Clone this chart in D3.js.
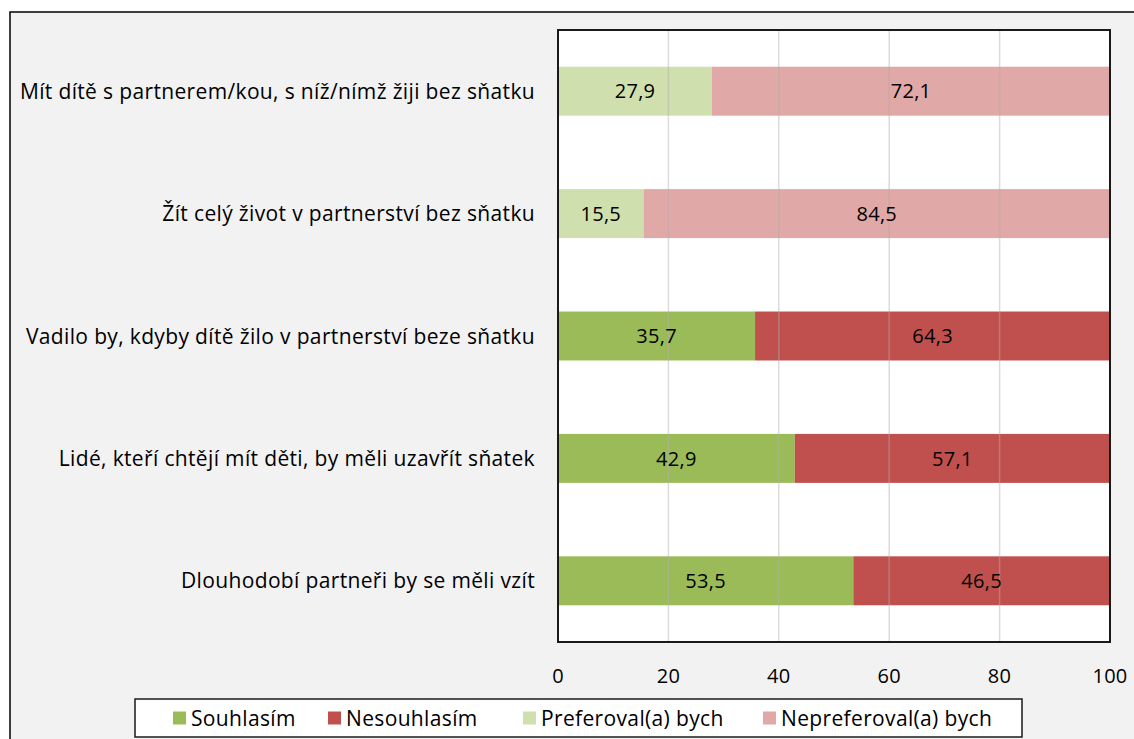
<!DOCTYPE html>
<html>
<head>
<meta charset="utf-8">
<script src="https://cdn.jsdelivr.net/npm/d3@7"></script>
<style>
  body { margin: 0; background: #fff; }
  svg { display: block; }
  text { font-family: "Open Sans", Lato, sans-serif; fill: #000; }
</style>
</head>
<body>
<svg id="chart" width="1134" height="739"></svg>
<script>
// statements, top to bottom
const categories = [
  "Mít dítě s partnerem/kou, s níž/nímž žiji bez sňatku",
  "Žít celý život v partnerství bez sňatku",
  "Vadilo by, kdyby dítě žilo v partnerství beze sňatku",
  "Lidé, kteří chtějí mít děti, by měli uzavřít sňatek",
  "Dlouhodobí partneři by se měli vzít"
]
const seriesNames = ["Souhlasím", "Nesouhlasím", "Preferoval(a) bych", "Nepreferoval(a) bych"]
const souhlasim    = [null, null, 35.7, 42.9, 53.5]
const nesouhlasim  = [null, null, 64.3, 57.1, 46.5]
const preferoval   = [27.9, 15.5, null, null, null]
const nepreferoval = [72.1, 84.5, null, null, null]
const xTicks = [0, 20, 40, 60, 80, 100]

const colours = ["#9bbb59", "#c0504d", "#cfdfae", "#e0a8a7"]

const svg = d3.select('#chart')

// chart area background + outer frame
svg.append('rect')
  .attr('x', 10).attr('y', 12)
  .attr('width', 1140).attr('height', 740)
  .attr('fill', '#f2f2f2')
  .attr('stroke', '#000')
  .attr('stroke-width', 1.5)

const plot = { left: 558, top: 30, right: 1110, bottom: 642 }

const x = d3.scaleLinear().domain([0, 100]).range([plot.left, plot.right])
const y = d3.scaleBand().domain(categories).range([plot.top, plot.bottom]).paddingInner(0.6).paddingOuter(0.3)

svg.append('rect')
  .attr('x', plot.left).attr('y', plot.top)
  .attr('width', plot.right - plot.left).attr('height', plot.bottom - plot.top)
  .attr('fill', '#fff')

// stack the four series
const rows = categories.map((c, i) => ({
  cat: c,
  values: [souhlasim[i], nesouhlasim[i], preferoval[i], nepreferoval[i]]
}))
const segments = []
rows.forEach(r => {
  let start = 0
  r.values.forEach((v, s) => {
    if (v == null) return
    segments.push({ cat: r.cat, s, v, x0: start, x1: start + v })
    start += v
  })
})

svg.append('g').selectAll('rect').data(segments)
  .join('rect')
  .attr('x', d => x(d.x0))
  .attr('y', d => y(d.cat))
  .attr('width', d => x(d.x1) - x(d.x0))
  .attr('height', y.bandwidth())
  .attr('fill', d => colours[d.s])

// gridlines show through the bars a bit
svg.append('g').selectAll('line').data(xTicks.slice(1, -1))
  .join('line')
  .attr('x1', d => x(d)).attr('x2', d => x(d))
  .attr('y1', plot.top).attr('y2', plot.bottom)
  .attr('stroke', '#b0b0b0')
  .attr('stroke-opacity', 0.45)
  .attr('stroke-width', 1.5)

svg.append('g').selectAll('text').data(segments)
  .join('text')
  .attr('x', d => x((d.x0 + d.x1) / 2))
  .attr('y', d => y(d.cat) + y.bandwidth() / 2)
  .attr('dy', '0.36em')
  .attr('text-anchor', 'middle')
  .style('font-size', '20px')
  .style('letter-spacing', '0.3px')
  .text(d => d3.format('.1f')(d.v).replace('.', ','))

// plot frame
svg.append('rect')
  .attr('x', plot.left).attr('y', plot.top)
  .attr('width', plot.right - plot.left).attr('height', plot.bottom - plot.top)
  .attr('fill', 'none')
  .attr('stroke', '#1a1a1a')
  .attr('stroke-width', 2)

// category labels
svg.append('g').selectAll('text').data(categories)
  .join('text')
  .attr('x', 535)
  .attr('y', d => y(d) + y.bandwidth() / 2)
  .attr('dy', '0.36em')
  .attr('text-anchor', 'end')
  .style('font-size', '21px')
  .style('letter-spacing', '0.35px')
  .text(d => d)

// x axis tick labels
svg.append('g').selectAll('text').data(xTicks)
  .join('text')
  .attr('x', d => x(d))
  .attr('y', 676)
  .attr('dy', '0.36em')
  .attr('text-anchor', 'middle')
  .style('font-size', '20px')
  .style('letter-spacing', '0.3px')
  .text(d => d)

// legend
const legend = svg.append('g')
legend.append('rect')
  .attr('x', 135).attr('y', 699)
  .attr('width', 887).attr('height', 38)
  .attr('fill', '#fff')
  .attr('stroke', '#1a1a1a')
  .attr('stroke-width', 1.5)

const legendX = [173, 328, 523, 763]
const items = legend.selectAll('g').data(seriesNames)
  .join('g')
  .attr('transform', (d, i) => `translate(${legendX[i]},718)`)
items.append('rect')
  .attr('x', 0).attr('y', -6.5)
  .attr('width', 13).attr('height', 13)
  .attr('fill', (d, i) => colours[i])
items.append('text')
  .attr('x', 18)
  .attr('dy', '0.36em')
  .style('font-size', '21px')
  .style('letter-spacing', '0.35px')
  .text(d => d)
</script>
</body>
</html>
